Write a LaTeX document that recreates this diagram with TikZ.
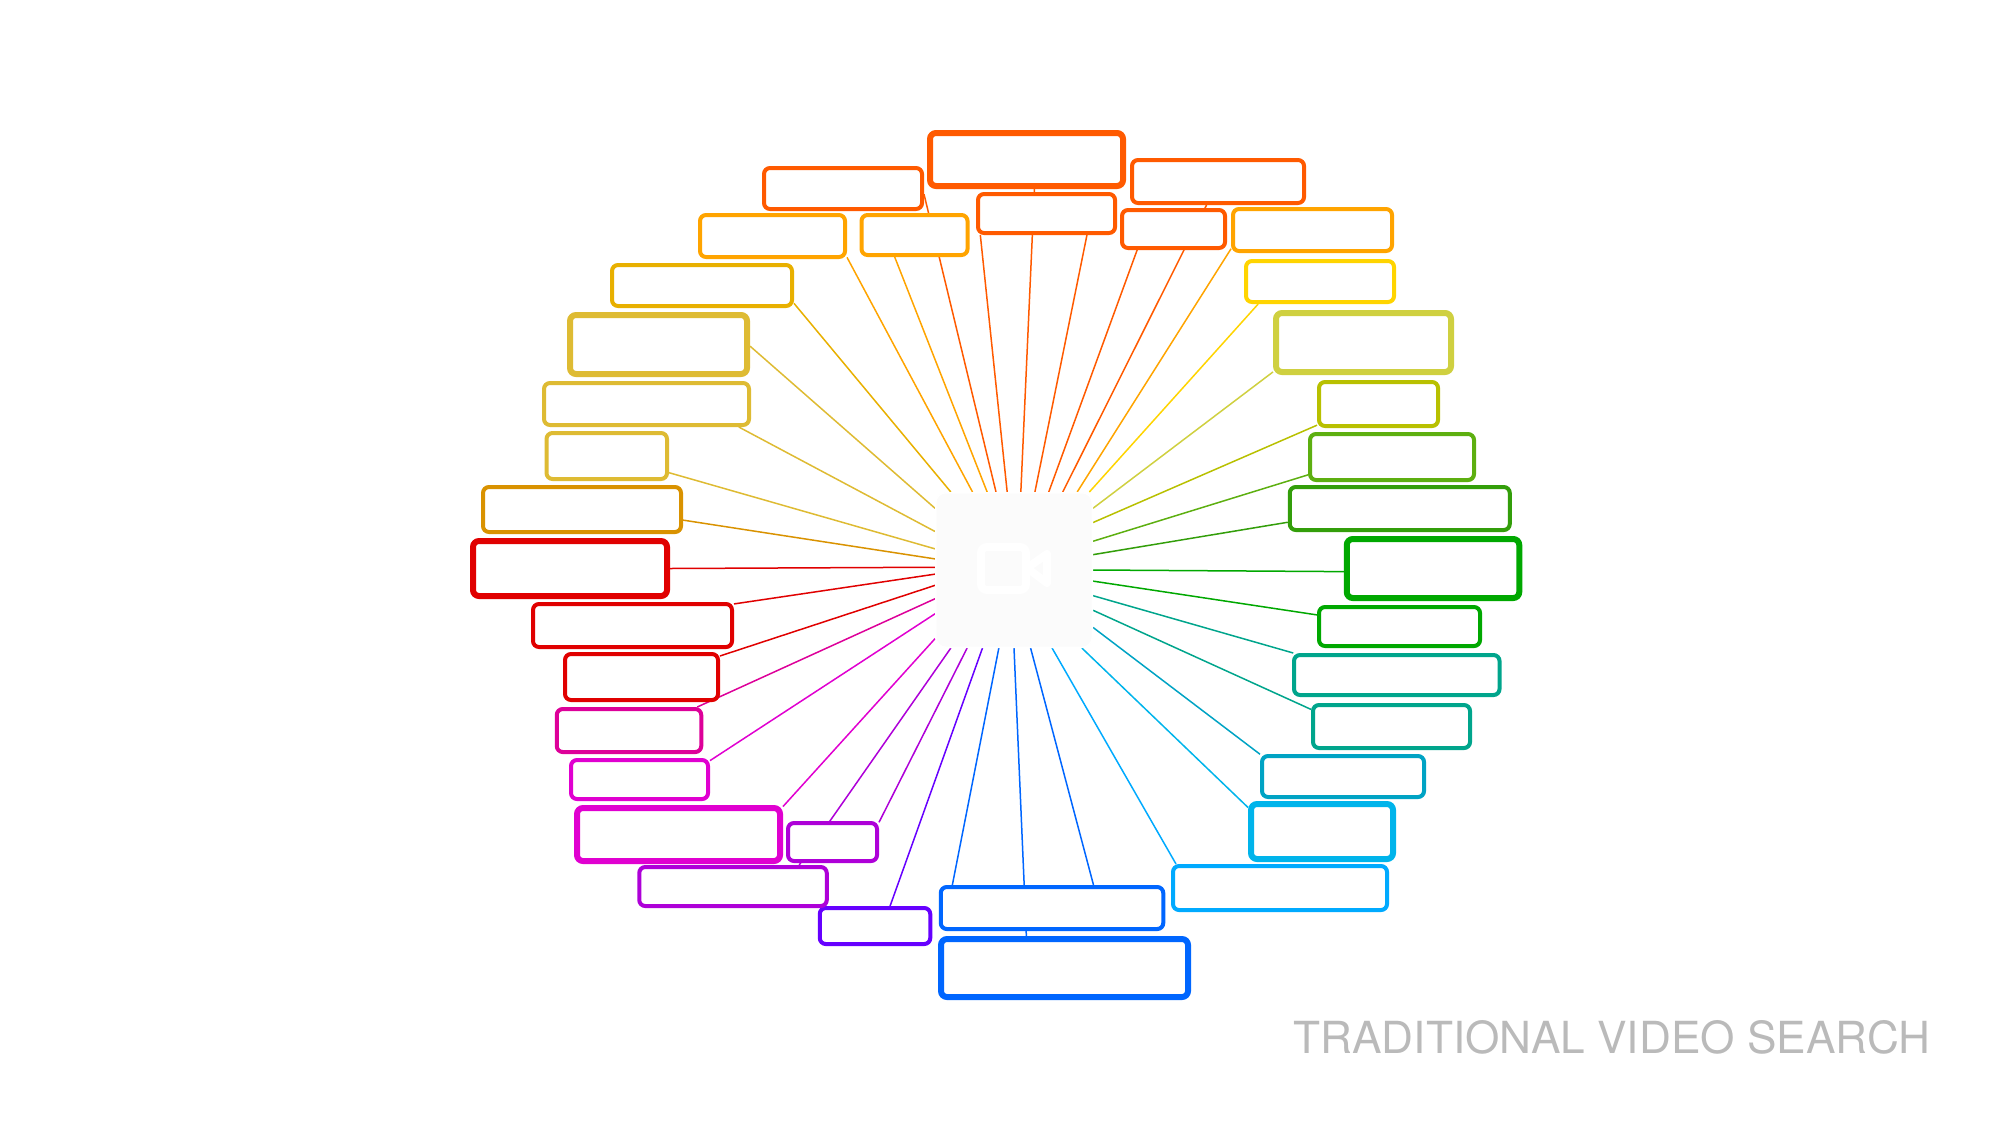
\documentclass[tikz,border=0pt]{standalone}
\usepackage{fontspec}
\setmainfont{TeX Gyre Heros}
\usetikzlibrary{positioning,backgrounds}

\definecolor{hotorange}{HTML}{FF5A00}
\definecolor{orange1}{HTML}{FFA400}
\definecolor{amber1}{HTML}{E8B000}
\definecolor{gold1}{HTML}{DEBB33}
\definecolor{amber2}{HTML}{D99200}
\definecolor{red1}{HTML}{E00000}
\definecolor{pink1}{HTML}{DD0099}
\definecolor{magenta1}{HTML}{E000D0}
\definecolor{purple1}{HTML}{AE00D8}
\definecolor{violet1}{HTML}{6600FF}
\definecolor{blue1}{HTML}{0066FF}
\definecolor{sky1}{HTML}{00AAFF}
\definecolor{cyan1}{HTML}{00B4EB}
\definecolor{cyan2}{HTML}{00A3C4}
\definecolor{teal1}{HTML}{00A58C}
\definecolor{green1}{HTML}{00A800}
\definecolor{green2}{HTML}{339E0A}
\definecolor{green3}{HTML}{5DAF10}
\definecolor{lime1}{HTML}{B8C000}
\definecolor{khaki1}{HTML}{CFD040}
\definecolor{yellow1}{HTML}{FFD400}
\definecolor{hubgrey}{HTML}{FBFBFB}

\begin{document}
\begin{tikzpicture}[
      x=0.5pt, y=-0.5pt,
      tag/.style n args={3}{draw=#1, fill=white, rounded corners=3pt, inner sep=0pt, line width=2pt, minimum width=#2*0.5pt, minimum height=#3*0.5pt},
      bigtag/.style n args={3}{tag={#1}{#2}{#3}, line width=3pt},
      link/.style={line width=0.75pt}
      ]

      \path[use as bounding box] (0,0) rectangle (2000,1125);

      % Around the clock, from the top.
      \node[bigtag={hotorange}{193}{53}] (top) at (1026.5,159.5) {};
      \node[tag={hotorange}{137}{39}] (mid) at (1046.5,213.5) {};
      \node[tag={hotorange}{172}{43}] (orangeright) at (1218,181.5) {};
      \node[tag={hotorange}{103}{38}] (orangesmall) at (1173.5,229) {};
      \node[tag={orange1}{159}{42}] (amberright) at (1312.5,230) {};
      \node[tag={yellow1}{148}{41}] (yellowbox) at (1320,281.5) {};
      \node[bigtag={khaki1}{175}{59}] (khakibox) at (1363.5,342.5) {};
      \node[tag={lime1}{119}{44}] (limebox) at (1378.5,404) {};
      \node[tag={green3}{164}{46}] (greenA) at (1392,457) {};
      \node[tag={green2}{220}{43}] (greenB) at (1399.75,508.5) {};
      \node[bigtag={green1}{172.5}{59}] (greenbig) at (1433,568.5) {};
      \node[tag={green1}{161}{39}] (greenC) at (1399.5,626.5) {};
      \node[tag={teal1}{205.5}{40}] (tealA) at (1396.75,675) {};
      \node[tag={teal1}{157}{43}] (tealB) at (1391.5,726.5) {};
      \node[tag={cyan2}{162}{41}] (cyanA) at (1343,776.5) {};
      \node[bigtag={cyan1}{142}{55}] (cyanbig) at (1322,831.5) {};
      \node[tag={sky1}{214}{44}] (skybox) at (1280,888) {};
      \node[bigtag={blue1}{247}{58}] (bluebig) at (1064.5,968) {};
      \node[tag={blue1}{222.5}{42}] (bluebox) at (1052,908) {};
      \node[tag={violet1}{110.5}{36}] (violetbox) at (875,926) {};
      \node[tag={purple1}{187.5}{39}] (purplebox) at (733,886.5) {};
      \node[tag={purple1}{89}{38}] (purplesmall) at (832.5,842) {};
      \node[bigtag={magenta1}{203}{53}] (magentabig) at (678.5,834.5) {};
      \node[tag={magenta1}{137}{39}] (magentabox) at (639.5,779.5) {};
      \node[tag={pink1}{144.5}{43}] (pinkbox) at (629,730.5) {};
      \node[tag={red1}{153}{46}] (redA) at (641.5,677) {};
      \node[tag={red1}{199}{43}] (redB) at (632.5,625.5) {};
      \node[bigtag={red1}{194}{55}] (redbig) at (570,568.5) {};
      \node[tag={amber2}{198}{45}] (amberleft) at (582,509.5) {};
      \node[tag={gold1}{120.5}{46}] (goldsmall) at (606.75,456) {};
      \node[tag={gold1}{205}{42}] (goldbox) at (646.5,404) {};
      \node[bigtag={gold1}{177}{59}] (goldbig) at (658.5,344.5) {};
      \node[tag={amber1}{180}{41}] (amberbox) at (702,285.5) {};
      \node[tag={orange1}{145}{42}] (orangeA) at (772.5,236) {};
      \node[tag={orange1}{106}{40}] (orangeB) at (914.5,235) {};
      \node[tag={hotorange}{158}{41}] (orangeleft) at (843,188.5) {};

      \node[draw=white, fill=hubgrey, rounded corners=5pt, line width=0.75pt, inner sep=0pt, minimum width=156.5*0.5pt, minimum height=154.5*0.5pt] (hub) at (1014,570) {};
      \node[draw=white, rounded corners=3pt, line width=4pt, inner sep=0pt, minimum width=45*0.5pt, minimum height=43*0.5pt] (camera) at (1003.5,568.5) {};
      \path[draw=white, line width=4pt, line join=round] (1027,568) -- (1047,554) -- (1047,583) -- cycle;

      \node[anchor=base west, inner sep=0pt, text=black!27, font=\fontsize{22.1}{27}\selectfont] (title) at (1293,1053) {TRADITIONAL VIDEO SEARCH};

      \begin{scope}[on background layer]
        \path[link,draw=hotorange] (top.-75.7) -- (hub.85);
        \path[link,draw=hotorange] (mid.198.8) -- (hub.95);
        \path[link,draw=hotorange] (mid.-28.6) -- (hub.75.6);
        \path[link,draw=hotorange] (orangeright.244.1) -- (hub.58.4);
        \path[link,draw=hotorange] (orangesmall.210.4) -- (hub.66.9);
        \path[link,draw=orange1] (amberright.193.7) -- (hub.51.5);
        \path[link,draw=yellow1] (yellowbox.200.6) -- (hub.46.5);
        \path[link,draw=khaki1] (khakibox.198.3) -- (hub.38.1);
        \path[link,draw=lime1] (limebox.199.3) -- (hub.31.3);
        \path[link,draw=green3] (greenA.192.5) -- (hub.20.8);
        \path[link,draw=green2] (greenB.187.9) -- (hub.11.4);
        \path[link,draw=green1] (greenbig.182.1) -- (hub.0.7);
        \path[link,draw=green1] (greenC.172.5) -- (hub.-8.4);
        \path[link,draw=teal1] (tealA.168.2) -- (hub.-18.7);
        \path[link,draw=teal1] (tealB.168.3) -- (hub.-27.8);
        \path[link,draw=cyan2] (cyanA.165.6) -- (hub.-36.9);
        \path[link,draw=cyan1] (cyanbig.162.7) -- (hub.311.7);
        \path[link,draw=sky1] (skybox.167.5) -- (hub.296.8);
        \path[link,draw=blue1] (bluebox.29.3) -- (hub.282.3);
        \path[link,draw=blue1] (bluebig.140.4) -- (hub.270);
        \path[link,draw=blue1] (bluebox.167.4) -- (hub.259.8);
        \path[link,draw=violet1] (violetbox.53.7) -- (hub.248.6);
        \path[link,draw=purple1] (purplesmall.23.3) -- (hub.239.5);
        \path[link,draw=purple1] (purplebox.18.4) -- (hub.231);
        \path[link,draw=magenta1] (magentabig.15.1) -- (hub.221.5);
        \path[link,draw=magenta1] (magentabox.15.2) -- (hub.209.3);
        \path[link,draw=pink1] (pinkbox.19.1) -- (hub.200.2);
        \path[link,draw=red1] (redA.15.6) -- (hub.191.9);
        \path[link,draw=red1] (redB.12.2) -- (hub.183.6);
        \path[link,draw=red1] (redbig.0) -- (hub.178.6);
        \path[link,draw=amber2] (amberleft.-6.3) -- (hub.172.3);
        \path[link,draw=gold1] (goldsmall.-15.5) -- (hub.165.8);
        \path[link,draw=gold1] (goldbox.-14.3) -- (hub.154.9);
        \path[link,draw=gold1] (goldbig.-1.4) -- (hub.142);
        \path[link,draw=amber1] (amberbox.-11.4) -- (hub.129.8);
        \path[link,draw=orange1] (orangeA.-16.2) -- (hub.118.9);
        \path[link,draw=orange1] (orangeB.-132) -- (hub.109.7);
        \path[link,draw=hotorange] (orangeleft.-4) -- (hub.103);
      \end{scope}
    \end{tikzpicture}
\end{document}
